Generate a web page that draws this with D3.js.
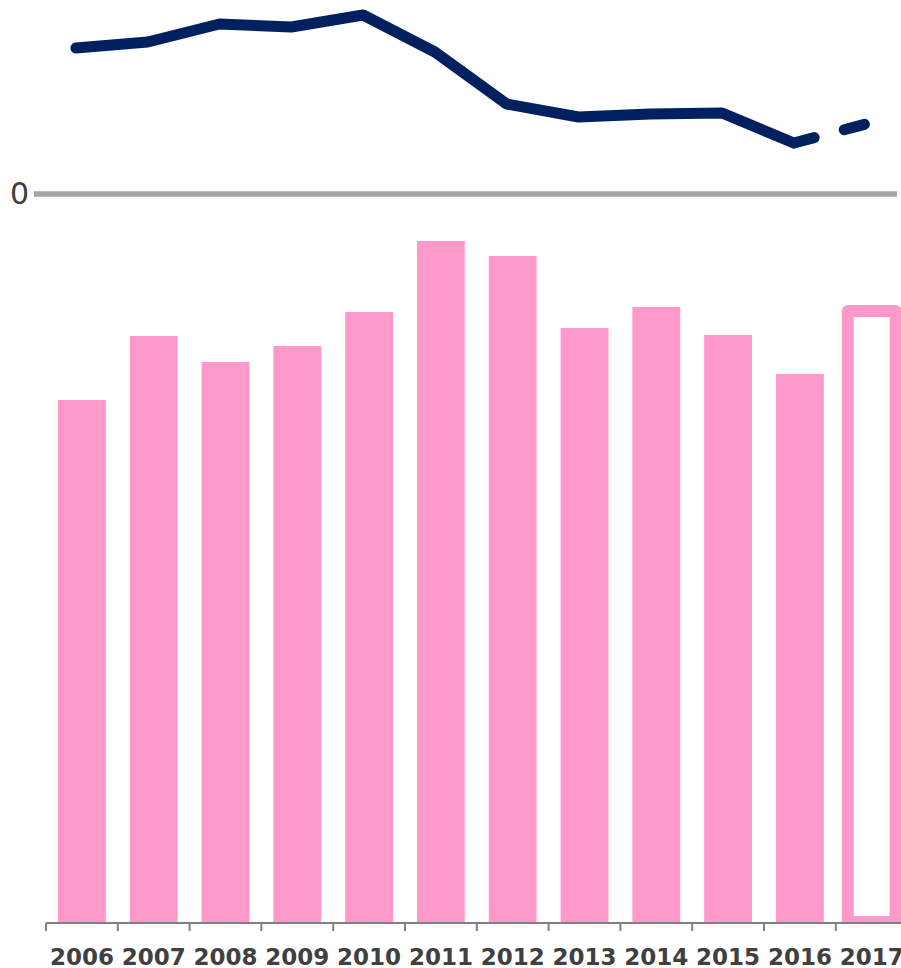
<!DOCTYPE html>
<html>
<head>
<meta charset="utf-8">
<script src="https://cdn.jsdelivr.net/npm/d3@7"></script>
<style>
  html, body { margin: 0; padding: 0; background: #fff; }
  svg { display: block; }
</style>
</head>
<body>
<svg id="chart" width="901" height="968"></svg>
<script>
// Years on the shared x axis
const years = ["2006", "2007", "2008", "2009", "2010", "2011", "2012", "2013", "2014", "2015", "2016", "2017"];
// Bar series (lower panel); the last year is an estimate, drawn as an outline
const barValues = [522, 586, 560, 576, 610, 681, 666, 594, 615, 587, 548, 611];
// Line series (upper panel); the last segment is projected, drawn dashed
const lineValues = [146, 152, 170, 167, 179, 142, 90, 77, 80, 81, 51, 70];
// Tick label on the line panel's baseline
const lineTicks = [0];

const svg = d3.select("#chart");
const pink = "#ff99cc";
const navy = "#002060";

const x = d3.scaleBand()
  .domain(years)
  .range([46, 907.6])
  .paddingInner(1 / 3)
  .paddingOuter(1 / 6);

const yBar = d3.scaleLinear().domain([0, 700]).range([922, 222]);
const yLine = d3.scaleLinear().domain([0, 200]).range([194, -6]);

// ---- upper panel: baseline and line ----
svg.append("line")
  .attr("x1", 34).attr("x2", 897)
  .attr("y1", yLine(0)).attr("y2", yLine(0))
  .attr("stroke", "#a6a6a6").attr("stroke-width", 5.5);

svg.selectAll("text.ytick")
  .data(lineTicks)
  .join("text")
  .attr("class", "ytick")
  .attr("x", 29)
  .attr("y", d => yLine(d) + 10)
  .attr("text-anchor", "end")
  .attr("font-family", "DejaVu Sans, Verdana, sans-serif")
  .attr("font-size", 30)
  .attr("fill", "#404040")
  .text(d => d);

const lx = d => x(d) + x.bandwidth() / 2 - 6;
const pts = years.map((yr, i) => [lx(yr), yLine(lineValues[i])]);
const lineGen = d3.line();

svg.append("path")
  .attr("d", lineGen(pts.slice(0, pts.length - 1)))
  .attr("fill", "none")
  .attr("stroke", navy)
  .attr("stroke-width", 11)
  .attr("stroke-linecap", "round")
  .attr("stroke-linejoin", "round");

svg.append("path")
  .attr("d", lineGen(pts.slice(pts.length - 2)))
  .attr("fill", "none")
  .attr("stroke", navy)
  .attr("stroke-width", 11)
  .attr("stroke-linecap", "round")
  .attr("stroke-dasharray", "21,31");

// ---- lower panel: bars ----
svg.append("defs").append("clipPath").attr("id", "plotClip")
  .append("rect").attr("x", 0).attr("y", 0).attr("width", 901).attr("height", 924);

const bars = svg.append("g").attr("clip-path", "url(#plotClip)");
const last = years.length - 1;

bars.selectAll("rect.bar")
  .data(years.slice(0, last))
  .join("rect")
  .attr("class", "bar")
  .attr("x", d => x(d))
  .attr("width", x.bandwidth())
  .attr("y", (d, i) => yBar(barValues[i]))
  .attr("height", (d, i) => yBar(0) - yBar(barValues[i]))
  .attr("fill", pink);

bars.append("rect")
  .attr("x", x(years[last]))
  .attr("width", x.bandwidth())
  .attr("y", yBar(barValues[last]))
  .attr("height", yBar(0) - yBar(barValues[last]))
  .attr("fill", "#fff")
  .attr("stroke", pink)
  .attr("stroke-width", 12)
  .attr("stroke-linejoin", "round");

// ---- x axis ----
const axisG = svg.append("g").attr("transform", `translate(0,${yBar(0) + 1})`);
axisG.append("line")
  .attr("x1", 46).attr("x2", 901)
  .attr("stroke", "#808080").attr("stroke-width", 2);

axisG.selectAll("line.tick")
  .data(years)
  .join("line")
  .attr("class", "tick")
  .attr("x1", d => x(d) - x.step() * x.paddingInner() / 2)
  .attr("x2", d => x(d) - x.step() * x.paddingInner() / 2)
  .attr("y1", 0).attr("y2", 8)
  .attr("stroke", "#808080").attr("stroke-width", 2);

axisG.selectAll("text")
  .data(years)
  .join("text")
  .attr("x", d => x(d) + x.bandwidth() / 2)
  .attr("y", 42)
  .attr("text-anchor", "middle")
  .attr("font-family", "DejaVu Sans, Verdana, sans-serif")
  .attr("font-weight", "bold")
  .attr("font-size", 23)
  .attr("fill", "#404040")
  .text(d => d);
</script>
</body>
</html>
